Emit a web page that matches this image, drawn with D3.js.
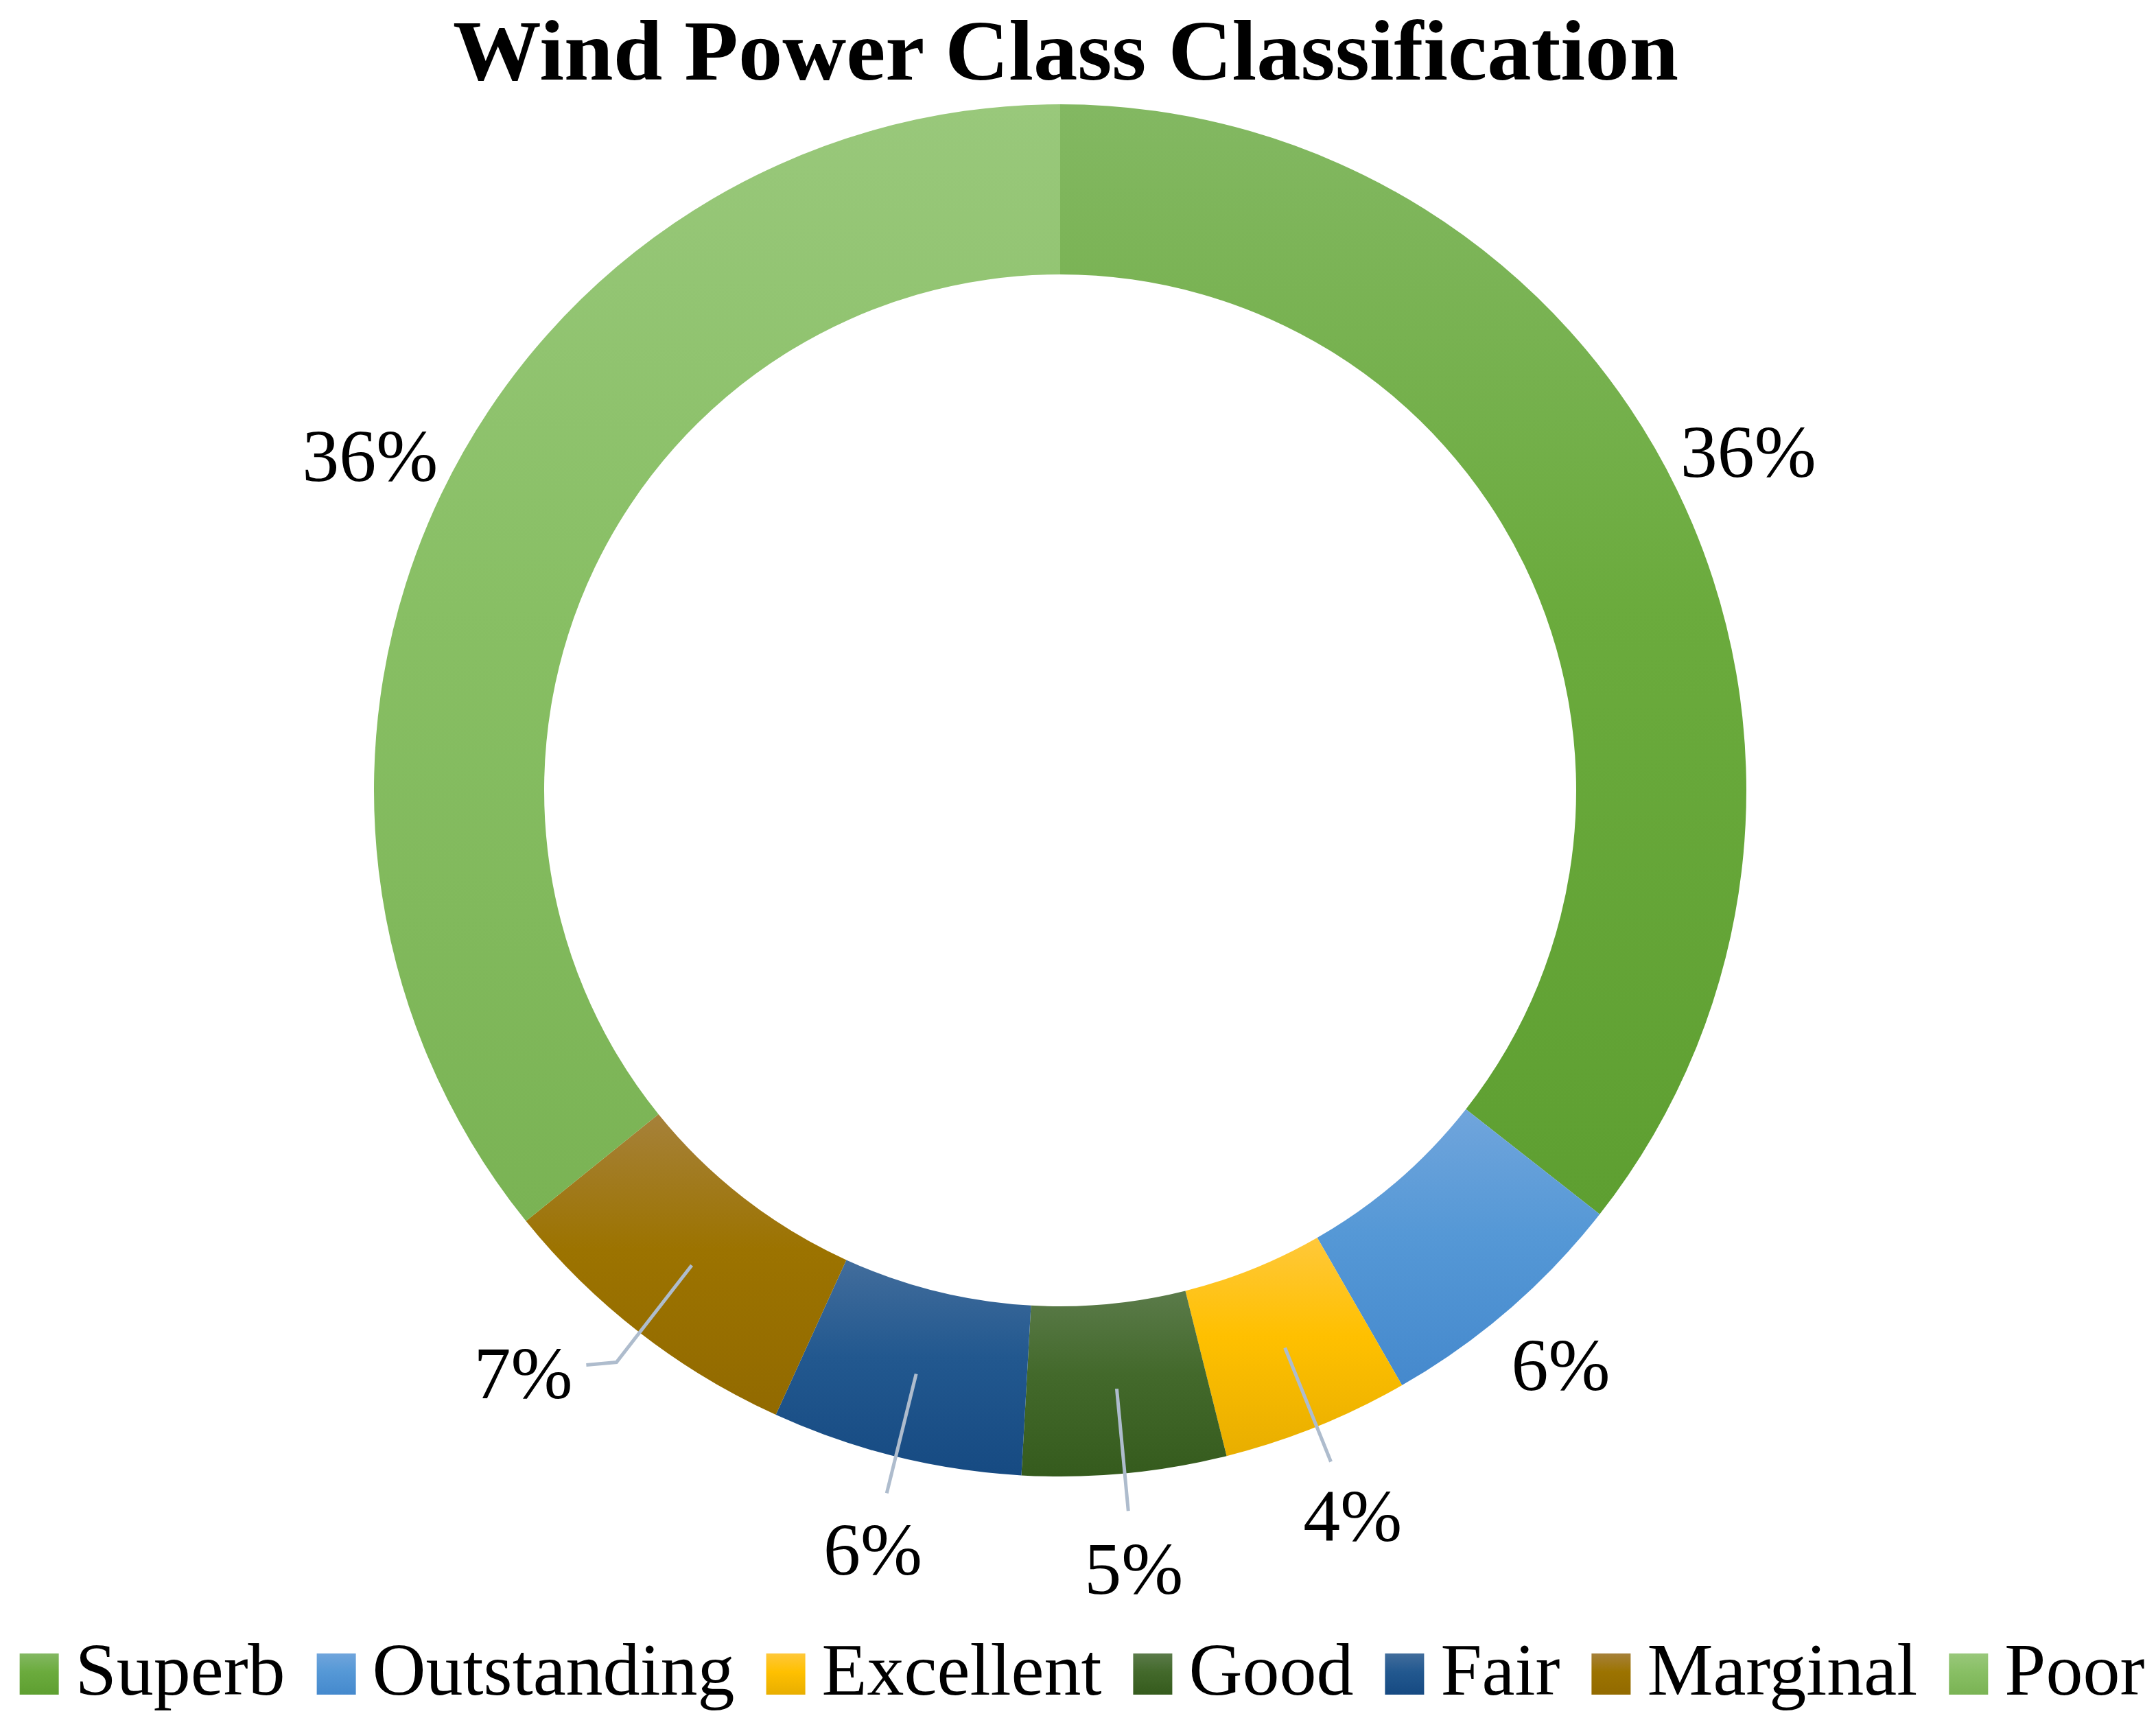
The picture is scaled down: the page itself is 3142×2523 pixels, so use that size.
<!DOCTYPE html>
<html lang="en">
<head>
<meta charset="UTF-8">
<title>Wind Power Class Classification</title>
<script src="https://cdnjs.cloudflare.com/ajax/libs/d3/7.8.5/d3.min.js"></script>
<style>
    body {
        margin: 0;
        background: white;
    }
    text {
        font-family: "Palatino Linotype", "Book Antiqua", "Liberation Serif", serif;
        fill: #000;
    }
</style>
</head>
<body>
<script>
    // classes, share (%)
    var classes = ["Superb", "Outstanding", "Excellent", "Good", "Fair", "Marginal", "Poor"];
    var shares = [35.6, 6.1, 4.4, 4.8, 5.9, 7.4, 35.8];
    // gradient per class: top, middle, bottom
    var colorsTop = ["#83b862", "#70a5dc", "#ffc83a", "#5b7b4a", "#426d9c", "#a6813a", "#99c87b"];
    var colorsMid = ["#6bab3d", "#5598d6", "#ffc000", "#43692b", "#22588f", "#9c7300", "#88bf64"];
    var colorsBot = ["#5e9f31", "#4589cd", "#e8ae00", "#355b1d", "#164a82", "#926a00", "#7ab354"];
    var leaderClasses = ["Excellent", "Good", "Fair", "Marginal"];

    var W = 3142, H = 2523;
    var cx = 1545, cy = 1152;
    var outerR = 1000, innerR = 752;

    var svg = d3.select("body").append("svg")
        .attr("width", W)
        .attr("height", H);

    var defs = svg.append("defs");
    classes.forEach(function(c, i) {
        var g = defs.append("linearGradient")
            .attr("id", "grad" + i)
            .attr("x1", 0).attr("y1", 0)
            .attr("x2", 0).attr("y2", 1);
        g.append("stop").attr("offset", 0).attr("stop-color", colorsTop[i]);
        g.append("stop").attr("offset", 0.45).attr("stop-color", colorsMid[i]);
        g.append("stop").attr("offset", 1).attr("stop-color", colorsBot[i]);
    });

    // title
    svg.append("text")
        .attr("x", 1553)
        .attr("y", 116)
        .attr("text-anchor", "middle")
        .attr("textLength", 1786)
        .attr("lengthAdjust", "spacingAndGlyphs")
        .style("font-size", "124px")
        .style("font-weight", "bold")
        .text("Wind Power Class Classification");

    var pie = d3.pie().sort(null).value(function(d) { return d; });
    var arcs = pie(shares);

    var arc = d3.arc().innerRadius(innerR).outerRadius(outerR);

    var chart = svg.append("g")
        .attr("transform", "translate(" + cx + "," + cy + ")");

    chart.selectAll(".slice")
        .data(arcs)
        .enter().append("path")
        .attr("class", "slice")
        .attr("d", arc)
        .attr("fill", function(d, i) { return "url(#grad" + i + ")"; });

    var fmt = d3.format(".0%");
    function polar(a, r) {
        return [Math.sin(a) * r, -Math.cos(a) * r];
    }

    arcs.forEach(function(d, i) {
        var mid = (d.startAngle + d.endAngle) / 2;
        var label = fmt(d.value / 100);
        var hasLeader = leaderClasses.indexOf(classes[i]) >= 0;
        if (!hasLeader) {
            var p = polar(mid, outerR * 1.115);
            chart.append("text")
                .attr("x", p[0]).attr("y", p[1] - 6)
                .attr("text-anchor", "middle")
                .attr("dominant-baseline", "central")
                .style("font-size", "108px")
                .text(label);
            return;
        }
        var p0 = polar(mid, (innerR + outerR) / 2);
        var p1 = polar(mid, outerR * 1.055);
        var pts = [p0, p1];
        var side = Math.abs(Math.sin(mid)) > 0.5;
        if (side) {
            var p2 = [p1[0] - 44, p1[1] + 4];
            pts.push(p2);
            chart.append("text")
                .attr("x", p2[0] - 20).attr("y", p2[1] + 12)
                .attr("text-anchor", "end")
                .attr("dominant-baseline", "central")
                .style("font-size", "108px")
                .text(label);
        } else {
            var lp = polar(mid, outerR * 1.14);
            chart.append("text")
                .attr("x", lp[0]).attr("y", lp[1])
                .attr("text-anchor", "middle")
                .attr("dominant-baseline", "central")
                .style("font-size", "108px")
                .text(label);
        }
        chart.append("path")
            .attr("d", d3.line()(pts))
            .attr("fill", "none")
            .attr("stroke", "#aebccd")
            .attr("stroke-width", 5);
    });

    // legend
    var legend = svg.append("g");
    var keyW = 57, keyH = 60, keyGap = 24, itemGap = 46;
    var xpos = 0;
    var items = legend.selectAll(".legend")
        .data(classes)
        .enter().append("g")
        .attr("class", "legend");
    items.append("rect")
        .attr("width", keyW)
        .attr("height", keyH)
        .attr("y", -keyH)
        .attr("fill", function(d, i) { return "url(#grad" + i + ")"; });
    items.append("text")
        .attr("x", keyW + keyGap)
        .attr("y", 0)
        .style("font-size", "108px")
        .text(function(d) { return d; });
    items.each(function() {
        var w = keyW + keyGap + d3.select(this).select("text").node().getComputedTextLength();
        d3.select(this).attr("transform", "translate(" + xpos + ",0)");
        xpos += w + itemGap;
    });
    var total = xpos - itemGap;
    legend.attr("transform", "translate(" + (1577 - total / 2) + ",2470)");
</script>
</body>
</html>
